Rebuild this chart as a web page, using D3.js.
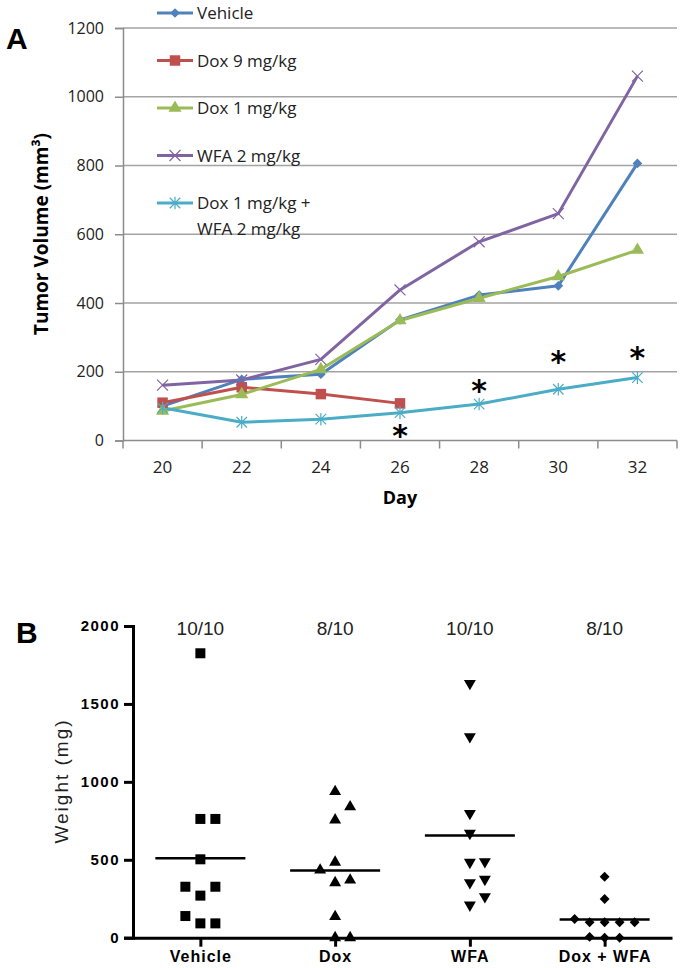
<!DOCTYPE html>
<html>
<head>
<meta charset="utf-8">
<script src="https://cdn.jsdelivr.net/npm/d3@7"></script>
<style>
  body { margin: 0; background: #fff; }
  svg { display: block; }
</style>
</head>
<body>
<script>
// ---- Panel A data: tumor volume by day ----
const days = [20, 22, 24, 26, 28, 30, 32];
const seriesNames = ["Vehicle", "Dox 9 mg/kg", "Dox 1 mg/kg", "WFA 2 mg/kg", "Dox 1 mg/kg + WFA 2 mg/kg"];
const vehicle = [100, 178, 193, 351, 423, 450, 806];
const dox9 = [110, 155, 135, 108];
const dox1 = [86, 134, 207, 349, 414, 477, 554];
const wfa2 = [161, 176, 236, 438, 578, 660, 1060];
const combo = [95, 53, 62, 81, 106, 149, 183];
const volTicks = [0, 200, 400, 600, 800, 1000, 1200];
const starDays = [26, 28, 30, 32];
const starLevels = [33, 164, 249, 261];

// ---- Panel B data: tumor weight per group ----
const groups = ["Vehicle", "Dox", "WFA", "Dox + WFA"];
const counts = ["10/10", "8/10", "10/10", "8/10"];
const wVehicle = [1825, 762, 762, 503, 327, 327, 270, 139, 92, 92];
const wDox = [937, 840, 755, 484, 434, 370, 353, 135, 0, 0];
const wWfa = [1632, 1290, 798, 670, 488, 484, 375, 353, 263, 210];
const wCombo = [391, 248, 120, 99, 99, 99, 99, 5, 0, 0];
const weightTicks = [0, 500, 1000, 1500, 2000];

const W = 683, H = 968;
const svg = d3.select("body").append("svg")
    .attr("width", W)
    .attr("height", H);

// ================= PANEL A =================
const fontA = "'Open Sans', 'Noto Sans', sans-serif";
const colors = ["#4F81BD", "#C0504D", "#9BBB59", "#8064A2", "#4BACC6"];
const seriesVals = [vehicle, dox9, dox1, wfa2, combo];

// custom marker shapes (Excel style)
const xMark = { draw(ctx, size) { const r = Math.sqrt(size) / 2;
    ctx.moveTo(-r, -r); ctx.lineTo(r, r); ctx.moveTo(-r, r); ctx.lineTo(r, -r); } };
const starMark = { draw(ctx, size) { const r = Math.sqrt(size) / 2;
    ctx.moveTo(-r, -r); ctx.lineTo(r, r); ctx.moveTo(-r, r); ctx.lineTo(r, -r);
    ctx.moveTo(0, -r * 1.2); ctx.lineTo(0, r * 1.2); } };
const markers = [
    { type: d3.symbolDiamond2 || d3.symbolDiamond, size: 60, fill: true },
    { type: d3.symbolSquare, size: 110, fill: true },
    { type: d3.symbolTriangle, size: 75, fill: true },
    { type: xMark, size: 120, fill: false },
    { type: starMark, size: 110, fill: false }
];

const xA = d3.scaleBand().domain(days).range([123, 677]);
const yA = d3.scaleLinear().domain([0, 1200]).range([440.5, 28]);
const cx = d => xA(d) + xA.bandwidth() / 2;

const gA = svg.append("g");

// gridlines
gA.selectAll(".grid")
    .data(volTicks.filter(t => t > 0))
    .enter().append("line")
    .attr("x1", 123).attr("x2", 677)
    .attr("y1", d => yA(d)).attr("y2", d => yA(d))
    .attr("stroke", "#a3a3a3").attr("stroke-width", 1.5);

// y axis
gA.append("g")
    .attr("transform", "translate(123,0)")
    .call(d3.axisLeft(yA).tickValues(volTicks).tickFormat(d3.format("d")).tickSize(8).tickPadding(11))
    .call(g => g.select(".domain").attr("stroke", "#8c8c8c").attr("stroke-width", 1.5))
    .call(g => g.selectAll(".tick line").attr("stroke", "#8c8c8c").attr("stroke-width", 1.5))
    .call(g => g.selectAll("text").attr("font-family", fontA).attr("font-size", 16).attr("fill", "#222"));

// x axis: category style, ticks between categories
const xAxisA = gA.append("g").attr("transform", "translate(0," + yA(0) + ")");
xAxisA.append("line")
    .attr("x1", 123).attr("x2", 677)
    .attr("stroke", "#8c8c8c").attr("stroke-width", 1.5);
xAxisA.selectAll(".tk")
    .data(days.map(d => xA(d)).concat([677]))
    .enter().append("line")
    .attr("x1", d => d).attr("x2", d => d)
    .attr("y1", 0).attr("y2", 8)
    .attr("stroke", "#8c8c8c").attr("stroke-width", 1.5);
xAxisA.selectAll(".lbl")
    .data(days)
    .enter().append("text")
    .attr("x", d => cx(d)).attr("y", 32)
    .attr("text-anchor", "middle")
    .attr("font-family", fontA).attr("font-size", 17).attr("fill", "#222")
    .text(d => d);

// axis titles
gA.append("text")
    .attr("x", cx(26)).attr("y", 504)
    .attr("text-anchor", "middle")
    .attr("font-family", fontA).attr("font-size", 18).attr("font-weight", "bold")
    .text("Day");
gA.append("text")
    .attr("transform", "translate(48,234) rotate(-90)")
    .attr("text-anchor", "middle")
    .attr("font-family", fontA).attr("font-size", 19).attr("font-weight", "bold")
    .text("Tumor Volume (mm³)");

// series lines
const line = d3.line().x((d, i) => cx(days[i])).y(d => yA(d));
seriesVals.forEach((vals, s) => {
    gA.append("path")
        .datum(vals)
        .attr("d", line)
        .attr("fill", "none")
        .attr("stroke", colors[s])
        .attr("stroke-width", 3)
        .attr("stroke-linejoin", "round");
});
seriesVals.forEach((vals, s) => {
    const m = markers[s];
    gA.selectAll(".m" + s)
        .data(vals)
        .enter().append("path")
        .attr("transform", (d, i) => "translate(" + cx(days[i]) + "," + yA(d) + ")")
        .attr("d", d3.symbol().type(m.type).size(m.size))
        .attr("fill", m.fill ? colors[s] : "none")
        .attr("stroke", colors[s])
        .attr("stroke-width", m.fill ? 0 : 1.2);
});

// significance stars
gA.selectAll(".star")
    .data(starDays)
    .enter().append("text")
    .attr("x", d => cx(d))
    .attr("y", (d, i) => yA(starLevels[i]) + 17)
    .attr("text-anchor", "middle")
    .attr("font-family", "'DejaVu Sans', sans-serif")
    .attr("font-size", 30).attr("font-weight", "bold")
    .text("*");

// legend
const legend = gA.append("g");
seriesNames.forEach((name, s) => {
    const ly = 13 + s * 47.5;
    const g = legend.append("g").attr("transform", "translate(0," + ly + ")");
    g.append("line").attr("x1", 157).attr("x2", 193)
        .attr("stroke", colors[s]).attr("stroke-width", 3);
    const m = markers[s];
    g.append("path")
        .attr("transform", "translate(175,0)")
        .attr("d", d3.symbol().type(m.type).size(m.size))
        .attr("fill", m.fill ? colors[s] : "none")
        .attr("stroke", colors[s])
        .attr("stroke-width", m.fill ? 0 : 1.2);
    const parts = name.indexOf("+") > 0 ? [name.slice(0, name.indexOf("+") + 1), name.slice(name.indexOf("+") + 2)] : [name];
    const t = g.append("text")
        .attr("x", 197).attr("y", 6)
        .attr("font-family", fontA).attr("font-size", 17).attr("fill", "#222");
    parts.forEach((p, k) => {
        t.append("tspan").attr("x", 197).attr("dy", k ? 26 : 0).text(p);
    });
});

// panel label
svg.append("text")
    .attr("x", 6).attr("y", 49)
    .attr("font-family", "'Liberation Sans', Arial, sans-serif")
    .attr("font-size", 30).attr("font-weight", "bold")
    .text("A");

// ================= PANEL B =================
const fontB = "'Liberation Sans', Arial, sans-serif";
const weights = [wVehicle, wDox, wWfa, wCombo];
const shapesB = [d3.symbolSquare, d3.symbolTriangle, d3.symbolTriangle, d3.symbolDiamond2 || d3.symbolDiamond];
const sizesB = [100, 62, 62, 62];
const rotB = [0, 0, 180, 0];

const xB = d3.scalePoint().domain(groups).range([133, 672]).padding(0.5);
const yB = d3.scaleLinear().domain([0, 2000]).range([937.7, 626]);

const gB = svg.append("g");

// spread overlapping points sideways (scatter dot plot)
function dodge(vals, step, gap) {
    const order = d3.range(vals.length).sort((a, b) => vals[a] - vals[b]);
    const cols = new Map();
    const out = new Array(vals.length);
    const prefs = [0, 1, -1, 2, -2, 3, -3];
    order.forEach(i => {
        const y = yB(vals[i]);
        const c = prefs.find(c => !(cols.get(c) || []).some(yy => Math.abs(yy - y) < gap));
        if (!cols.has(c)) cols.set(c, []);
        cols.get(c).push(y);
        out[i] = c * step;
    });
    return out;
}

weights.forEach((vals, gi) => {
    const offs = dodge(vals, 15, 14);
    const g = groups[gi];
    gB.selectAll(".p" + gi)
        .data(vals)
        .enter().append("path")
        .attr("transform", (d, i) => "translate(" + (xB(g) + offs[i]) + "," + yB(d) + ") rotate(" + rotB[gi] + ")")
        .attr("d", d3.symbol().type(shapesB[gi]).size(sizesB[gi]))
        .attr("fill", "#000");
    // mean line
    const m = d3.mean(vals);
    gB.append("line")
        .attr("x1", xB(g) - 45).attr("x2", xB(g) + 45)
        .attr("y1", yB(m)).attr("y2", yB(m))
        .attr("stroke", "#000").attr("stroke-width", 2.5);
});

// y axis
gB.append("g")
    .attr("transform", "translate(133,0)")
    .call(d3.axisLeft(yB).tickValues(weightTicks).tickFormat(d3.format("d")).tickSize(9).tickPadding(4))
    .call(g => g.select(".domain").attr("stroke", "#000").attr("stroke-width", 3))
    .call(g => g.selectAll(".tick line").attr("stroke", "#000").attr("stroke-width", 3))
    .call(g => g.selectAll("text").attr("font-family", fontB).attr("font-size", 15)
        .attr("font-weight", "bold").attr("letter-spacing", 1.5).attr("fill", "#000"));

// x axis
gB.append("g")
    .attr("transform", "translate(0," + yB(0) + ")")
    .call(d3.axisBottom(xB).tickSize(9).tickPadding(4).tickSizeOuter(0))
    .call(g => g.select(".domain").attr("stroke", "#000").attr("stroke-width", 3))
    .call(g => g.selectAll(".tick line").attr("stroke", "#000").attr("stroke-width", 3))
    .call(g => g.selectAll("text").attr("font-family", fontB).attr("font-size", 16)
        .attr("font-weight", "bold").attr("letter-spacing", 1).attr("fill", "#000"));

// counts above groups
gB.selectAll(".cnt")
    .data(groups)
    .enter().append("text")
    .attr("x", d => xB(d)).attr("y", 635)
    .attr("text-anchor", "middle")
    .attr("font-family", fontB).attr("font-size", 19).attr("fill", "#222")
    .text((d, i) => counts[i]);

gB.append("text")
    .attr("transform", "translate(68,781) rotate(-90)")
    .attr("text-anchor", "middle")
    .attr("font-family", fontB).attr("font-size", 19).attr("letter-spacing", 2)
    .attr("fill", "#222")
    .text("Weight (mg)");

svg.append("text")
    .attr("x", 16).attr("y", 643)
    .attr("font-family", fontB)
    .attr("font-size", 30).attr("font-weight", "bold")
    .text("B");
</script>
</body>
</html>
